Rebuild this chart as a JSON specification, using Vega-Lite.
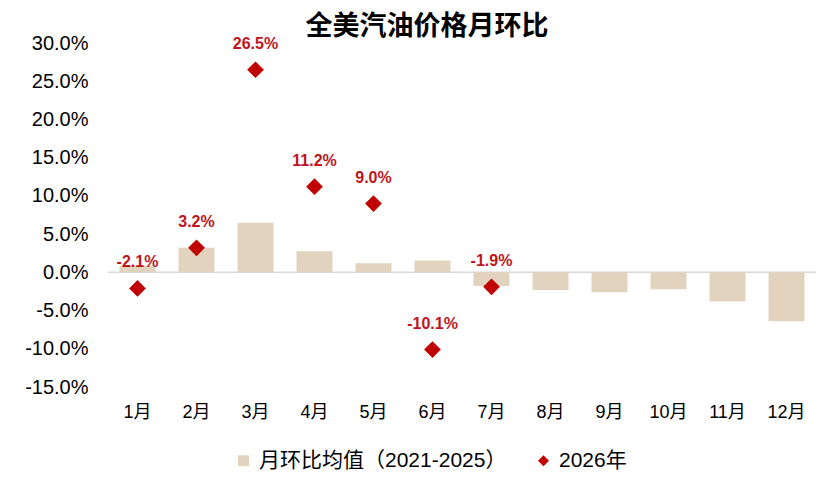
{
  "$schema": "https://vega.github.io/schema/vega-lite/v6.json",
  "width": 708,
  "height": 344,
  "autosize": {"type": "none"},
  "padding": {"left": 108, "top": 43, "right": 19, "bottom": 96},
  "config": {
    "font": "Liberation Sans, Noto Sans CJK SC",
    "view": {"stroke": null},
    "locale": {"number": {"decimal": ".", "thousands": ",", "grouping": [3], "currency": ["$", ""], "minus": "-"}},
    "legend": {
      "title": null,
      "orient": "none",
      "legendX": 125,
      "legendY": 407,
      "direction": "horizontal",
      "labelFontSize": 21,
      "labelColor": "#000000",
      "labelLimit": 400,
      "symbolSize": 120,
      "labelOffset": 5,
      "columnPadding": 26,
      "padding": 0,
      "symbolStrokeWidth": 0
    }
  },
  "title": {
    "text": "全美汽油价格月环比",
    "font": "Noto Sans CJK SC",
    "fontSize": 27,
    "fontWeight": "bold",
    "color": "#000000",
    "anchor": "middle",
    "dx": -35,
    "dy": 10,
    "offset": 2
  },
  "data": {
    "values": [
      {"month": "1月", "series": "月环比均值（2021-2025）", "value": 0.009},
      {"month": "2月", "series": "月环比均值（2021-2025）", "value": 0.032},
      {"month": "3月", "series": "月环比均值（2021-2025）", "value": 0.065},
      {"month": "4月", "series": "月环比均值（2021-2025）", "value": 0.0275},
      {"month": "5月", "series": "月环比均值（2021-2025）", "value": 0.012},
      {"month": "6月", "series": "月环比均值（2021-2025）", "value": 0.0155},
      {"month": "7月", "series": "月环比均值（2021-2025）", "value": -0.018},
      {"month": "8月", "series": "月环比均值（2021-2025）", "value": -0.023},
      {"month": "9月", "series": "月环比均值（2021-2025）", "value": -0.026},
      {"month": "10月", "series": "月环比均值（2021-2025）", "value": -0.022},
      {"month": "11月", "series": "月环比均值（2021-2025）", "value": -0.038},
      {"month": "12月", "series": "月环比均值（2021-2025）", "value": -0.064},
      {"month": "1月", "series": "2026年", "value": -0.021},
      {"month": "2月", "series": "2026年", "value": 0.032},
      {"month": "3月", "series": "2026年", "value": 0.265},
      {"month": "4月", "series": "2026年", "value": 0.112},
      {"month": "5月", "series": "2026年", "value": 0.09},
      {"month": "6月", "series": "2026年", "value": -0.101},
      {"month": "7月", "series": "2026年", "value": -0.019}
    ]
  },
  "encoding": {
    "x": {
      "field": "month",
      "type": "nominal",
      "sort": ["1月", "2月", "3月", "4月", "5月", "6月", "7月", "8月", "9月", "10月", "11月", "12月"],
      "scale": {"paddingInner": 0.39, "paddingOuter": 0.195},
      "axis": {
        "title": null,
        "labelAngle": 0,
        "domain": false,
        "ticks": false,
        "labelFontSize": 18,
        "labelColor": "#000000",
        "labelPadding": 16
      }
    },
    "y": {
      "field": "value",
      "type": "quantitative",
      "scale": {"domain": [-0.15, 0.3], "nice": false, "zero": false},
      "axis": {
        "title": null,
        "format": ".1%",
        "values": [-0.15, -0.1, -0.05, 0, 0.05, 0.1, 0.15, 0.2, 0.25, 0.3],
        "grid": false,
        "domain": false,
        "ticks": false,
        "labelFontSize": 20,
        "labelColor": "#000000",
        "labelPadding": 20
      }
    }
  },
  "layer": [
    {
      "data": {"values": [{"zero": 0}]},
      "mark": {"type": "rule", "color": "#D9D9D9", "strokeWidth": 1.5},
      "encoding": {"x": null, "y": {"field": "zero", "type": "quantitative"}}
    },
    {
      "transform": [{"filter": "datum.series === '月环比均值（2021-2025）'"}],
      "mark": {"type": "bar"},
      "encoding": {
        "color": {
          "field": "series",
          "type": "nominal",
          "scale": {"domain": ["月环比均值（2021-2025）", "2026年"], "range": ["#E2D3BE", "#C00000"]}
        }
      }
    },
    {
      "transform": [{"filter": "datum.series === '2026年'"}],
      "mark": {"type": "point", "filled": true, "size": 280, "opacity": 1},
      "encoding": {
        "color": {"field": "series", "type": "nominal"},
        "shape": {
          "field": "series",
          "type": "nominal",
          "scale": {"domain": ["月环比均值（2021-2025）", "2026年"], "range": ["square", "diamond"]}
        }
      }
    },
    {
      "transform": [{"filter": "datum.series === '2026年'"}],
      "mark": {"type": "text", "dy": -26, "fontSize": 16, "fontWeight": "bold", "color": "#C0141C"},
      "encoding": {
        "text": {"field": "value", "type": "quantitative", "format": ".1%"}
      }
    }
  ]
}
